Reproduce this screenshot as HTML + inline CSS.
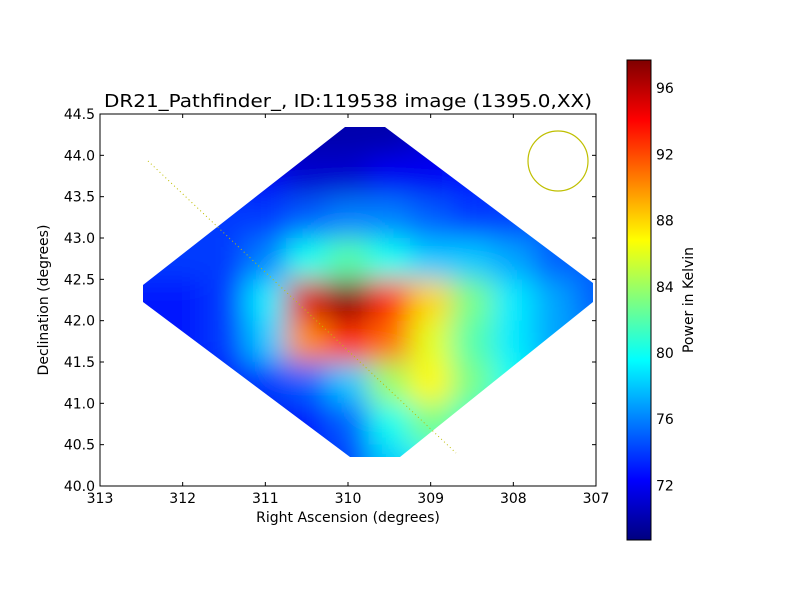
<!DOCTYPE html>
<html><head><meta charset="utf-8"><style>
body{margin:0;background:#fff;font-family:"Liberation Sans","DejaVu Sans",sans-serif}
svg text{font-family:"DejaVu Sans","Liberation Sans",sans-serif;font-size:14px}
</style></head><body>
<svg id="c" width="800" height="600" xmlns="http://www.w3.org/2000/svg">
<defs>
<filter id="bl" x="-20%" y="-20%" width="140%" height="140%"><feGaussianBlur stdDeviation="14"/></filter>
<clipPath id="dia"><polygon points="345,127 385,127 593,283 593,302 400,457 350,457 143,302 143,285"/></clipPath>
<linearGradient id="cbg" x1="0" y1="1" x2="0" y2="0">
<stop offset="0" stop-color="#00007f"/><stop offset="0.125" stop-color="#0000ff"/><stop offset="0.375" stop-color="#00ffff"/><stop offset="0.625" stop-color="#ffff00"/><stop offset="0.875" stop-color="#ff0000"/><stop offset="1" stop-color="#7f0000"/>
</linearGradient>
</defs>
<g id="heat" clip-path="url(#dia)"><g id="cells" filter="url(#bl)"></g></g>
<rect x="100" y="114" width="496" height="372" fill="none" stroke="#000"/>
<line x1="148" y1="161" x2="456" y2="453" stroke="#bfbf00" stroke-dasharray="1,3"/>
<circle cx="558" cy="161" r="30" fill="none" stroke="#bfbf00" stroke-width="1.2"/>
<g id="axes"></g>
<text x="104" y="107" textLength="488" lengthAdjust="spacingAndGlyphs" style="font-size:18px">DR21_Pathfinder_, ID:119538 image (1395.0,XX)</text>
<text x="348" y="522" text-anchor="middle">Right Ascension (degrees)</text>
<text transform="translate(48,300) rotate(-90)" text-anchor="middle">Declination (degrees)</text>
<rect x="627" y="60" width="24" height="480" fill="url(#cbg)" stroke="#000"/>
<text transform="translate(693,300) rotate(-90)" text-anchor="middle">Power in Kelvin</text>
</svg>
<script>
const raCols=[312.5,312,311.5,311,310.5,310,309.5,309,308.5,308,307.5,307];
const decRows=[44.25,43.75,43.25,42.75,42.25,41.75,41.25,40.75,40.25];
const values=[
[72,72,71,70,70,70,70,71,72,73,74,74],
[73,73,73,72,71,71,72,72,73,74,74,75],
[74,74,74,74,75,76,76,75,74,74,75,75],
[74,74,74,76,80,82,80,78,78,77,75,75],
[73,73,74,79,95,98,93,88,83,79,77,75],
[73,73,74,78,90,93,91,86,82,79,77,76],
[72,72,73,74,75,78,84,87,83,80,78,77],
[72,72,72,72,73,75,80,83,81,79,78,77],
[72,72,72,72,73,74,78,80,80,78,77,77]];
const xTicks=[313,312,311,310,309,308,307];
const yTicks=[40.0,40.5,41.0,41.5,42.0,42.5,43.0,43.5,44.0,44.5];
const cbTicks=[72,76,80,84,88,92,96];
const vmin=68.7,vmax=97.7;
const NS='http://www.w3.org/2000/svg';
const X=ra=>100+(313-ra)*496/6;
const Y=d=>486-(d-40)*372/4.5;
const CB=v=>540-(v-vmin)*480/(vmax-vmin);
function jet(t){const s=[[0,0,0,127],[0.125,0,0,255],[0.375,0,255,255],[0.625,255,255,0],[0.875,255,0,0],[1,127,0,0]];
t=Math.max(0,Math.min(1,t));for(let i=1;i<s.length;i++){if(t<=s[i][0]){const a=s[i-1],b=s[i],f=(t-a[0])/(b[0]-a[0]);
return `rgb(${Math.round(a[1]+f*(b[1]-a[1]))},${Math.round(a[2]+f*(b[2]-a[2]))},${Math.round(a[3]+f*(b[3]-a[3]))})`;}}return 'rgb(127,0,0)';}
const cells=document.getElementById('cells');
decRows.forEach((d,i)=>raCols.forEach((ra,j)=>{
const r=document.createElementNS(NS,'rect');
const cw=X(ra-0.25)-X(ra+0.25),ch=Y(d-0.25)-Y(d+0.25);
let x=X(ra+0.25),y=Y(d+0.25),ww=cw,hh=ch;
if(j==0){x-=60;ww+=60;} if(j==raCols.length-1){ww+=60;}
if(i==0){y-=60;hh+=60;} if(i==decRows.length-1){hh+=60;}
r.setAttribute('x',x);r.setAttribute('y',y);r.setAttribute('width',ww+1);r.setAttribute('height',hh+1);
r.setAttribute('fill',jet((values[i][j]-vmin)/(vmax-vmin)));


cells.appendChild(r);}));
const ax=document.getElementById('axes');
function ln(x1,y1,x2,y2){const l=document.createElementNS(NS,'line');l.setAttribute('x1',x1);l.setAttribute('y1',y1);l.setAttribute('x2',x2);l.setAttribute('y2',y2);l.setAttribute('stroke','#000');ax.appendChild(l);return l;}
function tx(x,y,s,a){const t=document.createElementNS(NS,'text');t.setAttribute('x',x);t.setAttribute('y',y);t.setAttribute('text-anchor',a);t.textContent=s;ax.appendChild(t);return t;}
xTicks.forEach(v=>{const x=X(v);ln(x,486,x,482);ln(x,114,x,118);
const t=tx(x,503,String(v),'middle');

});
yTicks.forEach(v=>{const y=Y(v);ln(100,y,104,y);ln(596,y,592,y);
const t=tx(95,y+5,v.toFixed(1),'end');

});
cbTicks.forEach(v=>{const y=CB(v);ln(627,y,631,y);ln(651,y,647,y);
const t=tx(656,y+5,String(v),'start');

});
</script>
</body></html>
